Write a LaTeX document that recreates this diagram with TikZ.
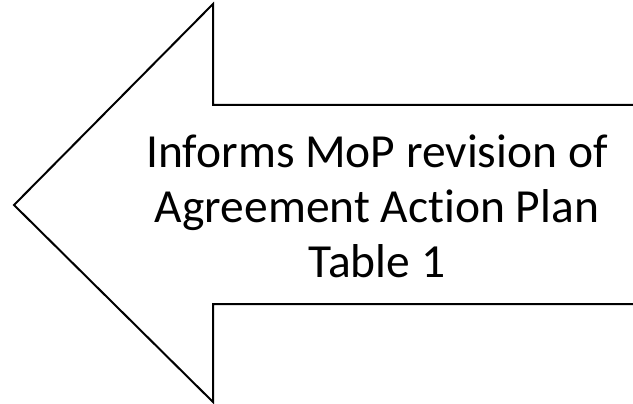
\documentclass[tikz,border=0pt]{standalone}
\usepackage{fontspec}
\setmainfont{Carlito}[Ligatures=CommonOff]
\begin{document}
\begin{tikzpicture}[x=1pt,y=-1pt,
  arrowline/.style={draw=black,line width=2pt,line join=miter},
  label/.style={align=center,inner sep=0pt,font=\fontsize{47.5}{55}\selectfont}]
\useasboundingbox (0,0) rectangle (633,404);
\coordinate (sr1) at (633,105);
\coordinate (st) at (213,105);
\coordinate (ht) at (213,4);
\coordinate (tip) at (14,205);
\coordinate (hb) at (213,402);
\coordinate (sb) at (213,304);
\coordinate (sr2) at (633,304);
\draw[arrowline] (sr1) -- (st) -- (ht) -- (tip) -- (hb) -- (sb) -- (sr2);
\node[label] (txt) at (377,206) {Informs MoP revision of\\Agreement Action Plan\\Table 1};
\end{tikzpicture}
\end{document}
